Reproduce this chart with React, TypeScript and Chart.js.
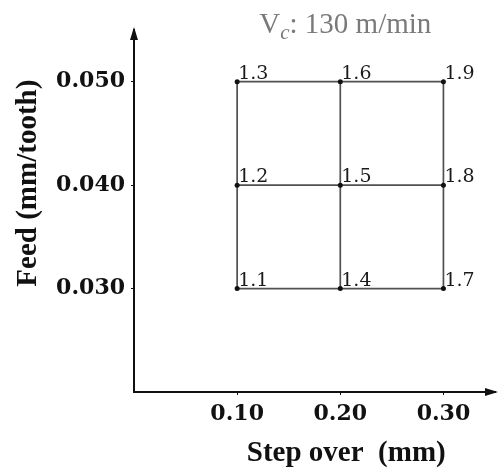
import React, { useEffect, useRef } from "react";
import { Chart, registerables } from "chart.js";

Chart.register(...registerables);

// ---- data ----
const stepOver = [0.1, 0.2, 0.3];
const feed = [0.03, 0.04, 0.05];
// test ids indexed [stepOver][feed]
const testIds = [
  ["1.1", "1.2", "1.3"],
  ["1.4", "1.5", "1.6"],
  ["1.7", "1.8", "1.9"],
];
const xTickValues = [0.1, 0.2, 0.3];
const yTickValues = [0.03, 0.04, 0.05];
const xRange = [0, 0.35];
const yRange = [0.02, 0.055];
const titleMain = "V";
const titleSub = "c";
const titleRest = ": 130 m/min";
const xTitle = "Step over  (mm)";
const yTitle = "Feed (mm/tooth)";

const LINE = "#505050";
const INK = "#111111";

const decorPlugin = {
  id: "decor",
  afterDraw(chart: any) {
    const ctx = chart.ctx as CanvasRenderingContext2D;
    const xs = chart.scales.x;
    const ys = chart.scales.y;
    const area = chart.chartArea;
    ctx.save();

    // arrow heads on axes
    ctx.fillStyle = INK;
    ctx.beginPath();
    ctx.moveTo(area.left, area.top - 3);
    ctx.lineTo(area.left - 4, area.top + 10);
    ctx.lineTo(area.left + 4, area.top + 10);
    ctx.closePath();
    ctx.fill();
    ctx.beginPath();
    ctx.moveTo(area.right + 3, area.bottom);
    ctx.lineTo(area.right - 10, area.bottom - 4);
    ctx.lineTo(area.right - 10, area.bottom + 4);
    ctx.closePath();
    ctx.fill();

    // point labels
    ctx.fillStyle = "#1a1a1a";
    ctx.font = "19px 'DejaVu Serif'";
    ctx.textAlign = "left";
    ctx.textBaseline = "alphabetic";
    for (let i = 0; i < stepOver.length; i++) {
      for (let j = 0; j < feed.length; j++) {
        const px = xs.getPixelForValue(stepOver[i]);
        const py = ys.getPixelForValue(feed[j]);
        ctx.fillText(testIds[i][j], px + 1, py - 3);
      }
    }

    // chart title (V_c: 130 m/min)
    const cx = xs.getPixelForValue(0.2) + 5;
    const base = 33;
    ctx.fillStyle = "#7a7a7a";
    const fMain = "29px 'Liberation Serif'";
    const fSub = "italic 21px 'Liberation Serif'";
    ctx.font = fMain;
    const wMain = ctx.measureText(titleMain).width;
    const wRest = ctx.measureText(titleRest).width;
    ctx.font = fSub;
    const wSub = ctx.measureText(titleSub).width;
    let tx = cx - (wMain + wSub + wRest) / 2;
    ctx.font = fMain;
    ctx.fillText(titleMain, tx, base);
    tx += wMain;
    ctx.font = fSub;
    ctx.fillText(titleSub, tx, base + 6);
    tx += wSub;
    ctx.font = fMain;
    ctx.fillText(titleRest, tx, base);

    // x axis title
    ctx.fillStyle = INK;
    ctx.font = "bold 29px 'Liberation Serif'";
    ctx.textAlign = "center";
    ctx.fillText(xTitle, xs.getPixelForValue(0.2) + 6, 461);

    // y axis title
    ctx.translate(29, ys.getPixelForValue(0.04) - 2);
    ctx.rotate(-Math.PI / 2);
    ctx.textBaseline = "middle";
    ctx.fillText(yTitle, 0, 0);

    ctx.restore();
  },
};

export default function App() {
  const ref = useRef<HTMLCanvasElement | null>(null);

  useEffect(() => {
    if (!ref.current) return;
    const rowSets = feed.map((f) => ({
      data: stepOver.map((s) => ({ x: s, y: f })),
      showLine: true,
      borderColor: LINE,
      borderWidth: 1.7,
      pointRadius: 2.5,
      pointBackgroundColor: "#111",
      pointBorderWidth: 0,
      order: 1,
    }));
    const colSets = stepOver.map((s) => ({
      data: feed.map((f) => ({ x: s, y: f })),
      showLine: true,
      borderColor: LINE,
      borderWidth: 1.7,
      pointRadius: 0,
      order: 2,
    }));
    const tickFont = { family: "'DejaVu Serif'", weight: "bold" as const, size: 22 };
    const chart = new Chart(ref.current, {
      type: "scatter",
      data: { datasets: [...rowSets, ...colSets] as any },
      plugins: [decorPlugin],
      options: {
        responsive: false,
        animation: false,
        devicePixelRatio: 1,
        layout: { padding: { top: 30, right: 3, left: 0, bottom: 0 } },
        plugins: { legend: { display: false }, tooltip: { enabled: false } },
        scales: {
          x: {
            type: "linear",
            min: xRange[0],
            max: xRange[1],
            afterBuildTicks: (s: any) => {
              s.ticks = xTickValues.map((v) => ({ value: v }));
            },
            afterFit: (s: any) => {
              s.height = 76;
            },
            ticks: {
              callback: (v: any) => Number(v).toFixed(2),
              font: tickFont,
              color: INK,
              padding: 6,
              maxRotation: 0,
              autoSkip: false,
            },
            grid: { drawOnChartArea: false, drawTicks: true, tickLength: 3, color: INK },
            border: { display: true, color: INK, width: 2 },
          },
          y: {
            type: "linear",
            min: yRange[0],
            max: yRange[1],
            afterBuildTicks: (s: any) => {
              s.ticks = yTickValues.map((v) => ({ value: v }));
            },
            afterFit: (s: any) => {
              s.width = 134;
            },
            ticks: {
              callback: (v: any) => Number(v).toFixed(3),
              font: tickFont,
              color: INK,
              padding: 6,
              autoSkip: false,
            },
            grid: { drawOnChartArea: false, drawTicks: true, tickLength: 3, color: INK },
            border: { display: true, color: INK, width: 2 },
          },
        },
      } as any,
    });
    return () => chart.destroy();
  }, []);

  return (
    <div style={{ position: "absolute", left: 0, top: 0, width: 499, height: 468, background: "#fff" }}>
      <canvas ref={ref} width={499} height={468} style={{ display: "block" }} />
    </div>
  );
}
